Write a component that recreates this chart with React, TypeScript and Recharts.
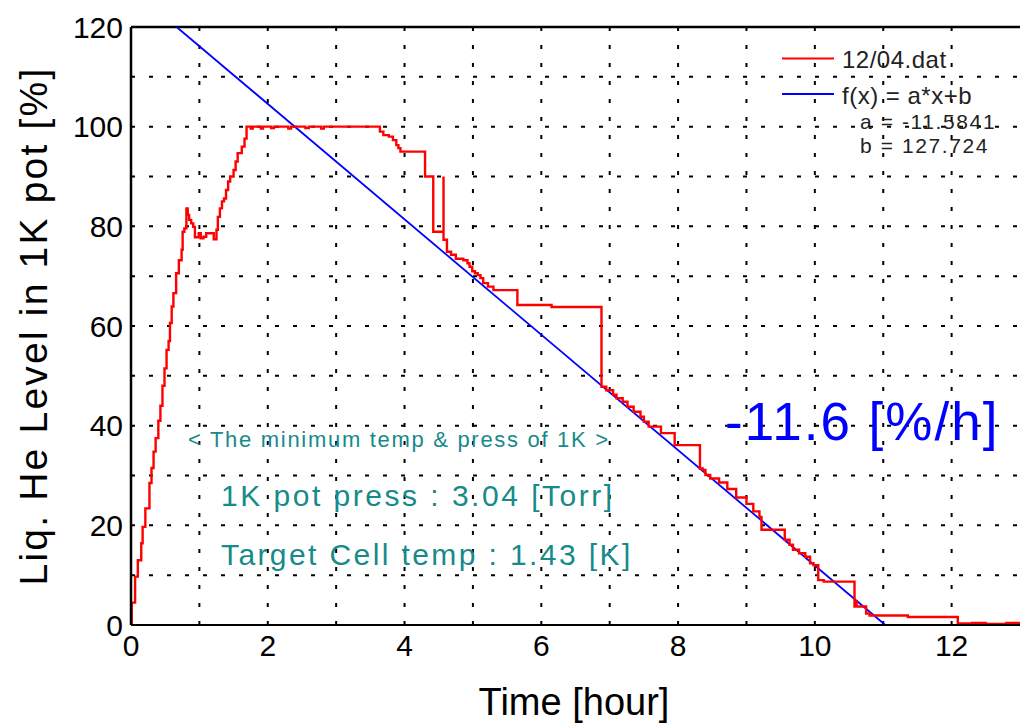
import React from 'react';
import { LineChart, Line, XAxis, YAxis, ReferenceLine } from 'recharts';

// Red step trace: hour, level [%]
const redX = [
  0.0, 0.01, 0.06, 0.1, 0.15, 0.17, 0.21, 0.27, 0.3, 0.33, 0.36, 0.4, 0.43, 0.46, 0.49,
  0.52, 0.55, 0.57, 0.595, 0.62, 0.66, 0.7, 0.74, 0.755, 0.78, 0.81, 0.83, 0.85, 0.88, 0.91,
  0.935, 0.99, 1.02, 1.06, 1.1, 1.16, 1.21, 1.25, 1.27, 1.3, 1.33, 1.36, 1.39, 1.42, 1.45,
  1.5, 1.53, 1.56, 1.62, 1.66, 1.69, 1.75, 1.78, 1.9, 1.93, 2.05, 2.09, 2.3, 2.34, 2.55,
  2.6, 2.78, 2.82, 3.64, 3.69, 3.77, 3.83, 3.88, 3.91, 3.94, 4.3, 4.42, 4.57, 4.57, 4.62,
  4.68, 4.75, 4.86, 4.92, 4.95, 4.99, 5.03, 5.07, 5.11, 5.15, 5.22, 5.3, 5.65, 6.15, 6.88,
  6.95, 7.05, 7.1, 7.19, 7.26, 7.35, 7.45, 7.5, 7.57, 7.75, 7.95, 8.32, 8.36, 8.4, 8.47,
  8.6, 8.72, 8.85, 9.0, 9.1, 9.19, 9.22, 9.56, 9.63, 9.68, 9.77, 9.86, 9.93, 9.98, 10.05,
  10.13, 10.58, 10.6, 10.61, 10.75, 10.8, 11.36, 12.09, 12.3, 12.5, 12.8, 13.0,
];
const redY = [
  0, 4.5, 9.7, 13, 16.4, 19.7, 23.4, 28.5, 31.5, 34.8, 37.5, 41, 44, 48, 51.5,
  55.2, 57, 60.6, 63.9, 66.6, 70.6, 73.2, 75.3, 78.9, 79.6, 83.6, 82.3, 81.3, 80.6, 79.9,
  77.8, 78.6, 77.6, 77.9, 78.6, 78.6, 77.4, 79.3, 81.9, 83.6, 85, 85.6, 87.3, 89, 90,
  91.3, 93, 94.7, 96, 97.6, 100, 99.6, 100, 99.6, 100, 99.7, 100, 99.6, 100, 99.7,
  100, 99.6, 100, 99, 98.3, 98, 97.3, 96.3, 95.7, 95, 90, 78.9, 90, 77.3, 74.9,
  74.3, 73.5, 73.2, 72.6, 71.9, 71, 70.6, 70.2, 69.6, 68.6, 67.9, 67.2, 64.2, 63.8, 47.8,
  47.1, 46.2, 45.5, 44.8, 43.8, 42.8, 41.8, 40.8, 39.8, 38.5, 36.1, 31.4, 31.1, 30.1, 29.4,
  28.6, 27.3, 25.6, 24.3, 22.8, 21.7, 19.1, 17.1, 16.1, 15.1, 14.4, 13.7, 12.4, 12.0, 9.0,
  8.7, 3.7, 4.8, 3.7, 2.3, 1.9, 1.6, 0.3, 0.4, 0.2, 0.4, 0.3,
];

// Linear fit f(x) = a*x + b, endpoints
const fitX = [0.667, 11.03];
const fitY = [120, 0];

const xTicks = [0, 2, 4, 6, 8, 10, 12];
const yTicks = [0, 20, 40, 60, 80, 100, 120];
const xGrid = [1, 2, 3, 4, 5, 6, 7, 8, 9, 10, 11, 12];
const yGrid = [10, 20, 30, 40, 50, 60, 70, 80, 90, 100, 110];

const legendNames = ['12/04.dat', 'f(x) = a*x+b'];
const fitParams = ['a = -11.5841', 'b = 127.724'];

const redData = redX.map((x, i) => ({ x, y: redY[i] }));
const fitData = fitX.map((x, i) => ({ x, y: fitY[i] }));

const FONT = '"Liberation Sans", Arial, sans-serif';
const TEAL = '#178a8a';

export default function App() {
  return (
    <div style={{ position: 'absolute', left: 0, top: 0, width: 1020, height: 724, background: '#fff', overflow: 'hidden' }}>
      <LineChart width={1020} height={724} margin={{ top: 27, right: 0, left: 0, bottom: 0 }}>
        <XAxis
          type="number"
          dataKey="x"
          domain={[0, 13]}
          ticks={xTicks}
          allowDataOverflow
          height={99}
          tickSize={0}
          tickMargin={10}
          axisLine={{ stroke: '#000', strokeWidth: 2 }}
          tick={{ fill: '#000', fontSize: 30, fontFamily: FONT }}
        />
        <YAxis
          type="number"
          dataKey="y"
          domain={[0, 120]}
          ticks={yTicks}
          allowDataOverflow
          width={131}
          tickSize={0}
          tickMargin={8}
          axisLine={{ stroke: '#000', strokeWidth: 2.5 }}
          tick={{ fill: '#000', fontSize: 30, fontFamily: FONT }}
        />
        {xGrid.map((v) => (
          <ReferenceLine key={'gx' + v} x={v} stroke="#000" strokeWidth={2} strokeDasharray="4 14" />
        ))}
        {yGrid.map((v) => (
          <ReferenceLine key={'gy' + v} y={v} stroke="#000" strokeWidth={2} strokeDasharray="4 14" />
        ))}
        <ReferenceLine y={120} stroke="#000" strokeWidth={2.5} />
        <Line
          data={fitData}
          dataKey="y"
          type="linear"
          stroke="#0000ff"
          strokeWidth={1.8}
          dot={false}
          isAnimationActive={false}
          name={legendNames[1]}
        />
        <Line
          data={redData}
          dataKey="y"
          type="stepAfter"
          stroke="#ff0000"
          strokeWidth={2.4}
          dot={false}
          isAnimationActive={false}
          name={legendNames[0]}
        />
      </LineChart>
      <svg
        width={1020}
        height={724}
        style={{ position: 'absolute', left: 0, top: 0, pointerEvents: 'none' }}
        fontFamily={FONT}
      >
        <line x1={782} x2={834} y1={58.5} y2={58.5} stroke="#ff0000" strokeWidth={2} />
        <text x={842} y={68} fontSize={24} fill="#222" letterSpacing={0.5}>{legendNames[0]}</text>
        <line x1={782} x2={834} y1={94} y2={94} stroke="#0000ff" strokeWidth={2} />
        <text x={842} y={104} fontSize={24} fill="#222" letterSpacing={0.5}>{legendNames[1]}</text>
        <text x={860} y={129} fontSize={21} fill="#222" letterSpacing={1.6}>{fitParams[0]}</text>
        <text x={860} y={153} fontSize={21} fill="#222" letterSpacing={1.6}>{fitParams[1]}</text>

        <text transform="translate(47,326) rotate(-90)" textAnchor="middle" fontSize={39} fill="#000" letterSpacing={2.2}>
          Liq. He Level in 1K pot [%]
        </text>
        <text x={574} y={715} textAnchor="middle" fontSize={38} fill="#000">
          Time [hour]
        </text>
        <text x={188} y={447} fontSize={22} fill={TEAL} letterSpacing={1.7}>
          &lt; The minimum temp &amp; press of 1K &gt;
        </text>
        <text x={221} y={506} fontSize={30} fill={TEAL} letterSpacing={2.5}>
          1K pot press : 3.04 [Torr]
        </text>
        <text x={221} y={565} fontSize={30} fill={TEAL} letterSpacing={2.4}>
          Target Cell temp : 1.43 [K]
        </text>
        <text x={725} y={440} fontSize={53} fill="#0000ff" letterSpacing={2}>
          -11.6 [%/h]
        </text>
      </svg>
    </div>
  );
}
